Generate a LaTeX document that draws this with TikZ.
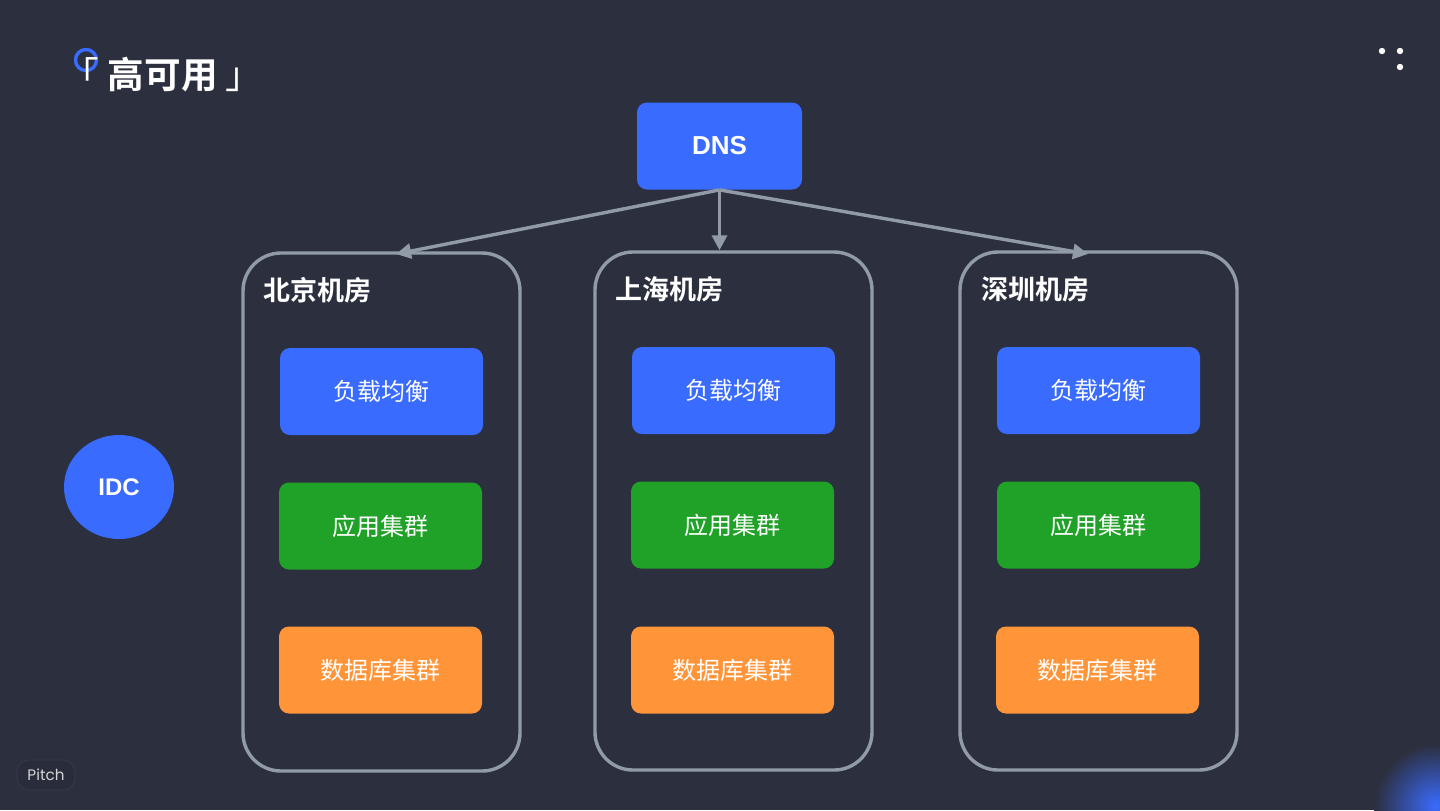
\documentclass[tikz,border=0pt]{standalone}
\usepackage{fontspec}
\setmainfont{Liberation Sans}
\newfontfamily\cjk{Noto Sans CJK SC}
\newfontfamily\cjkb{Noto Sans CJK SC Bold}
\newfontfamily\pitchfont{Poppins}
\usetikzlibrary{arrows.meta,shapes.geometric}
\definecolor{bgdark}{HTML}{2C2F3E}
\definecolor{bluebox}{HTML}{3A6BFF}
\definecolor{greenbox}{HTML}{20A228}
\definecolor{orangebox}{HTML}{FF9438}
\definecolor{linegray}{HTML}{919BA7}
\tikzset{
  unitbox/.style={minimum width=101.5pt,minimum height=43.5pt,rounded corners=5pt,text=white,inner sep=0pt,font=\cjk\fontsize{12}{14}\selectfont},
  roombox/.style={draw=linegray,line width=1.7pt,rounded corners=19pt,minimum width=138.5pt,minimum height=259pt,inner sep=0pt},
  roomtitle/.style={text=white,inner sep=0pt,font=\cjkb\fontsize{13.5}{15}\selectfont},
  feed/.style={draw=linegray,line width=1.7pt,-{Triangle[length=7.5pt,width=7.5pt]}}
}
\begin{document}
\begin{tikzpicture}[x=0.5pt,y=-0.5pt]
\useasboundingbox (0,0) rectangle (1440,810);
\fill[bgdark] (0,0) rectangle (1440,810);

% Resplandor de la esquina
\shade[inner color=bluebox,outer color=bgdark,overlay] (1436,806) circle (62);

% Titulo
\draw[bluebox,line width=1.7pt] (86,60) circle (10.5);
\node[text=white,inner sep=0pt,anchor=west,font=\cjkb\fontsize{18.3}{20}\selectfont] (title) at (62.5,75) {{\cjk「} 高可用 {\cjk」}};

% Puntos de la esquina
\foreach \px/\py in {1382/51,1400/51,1400/67}
  \fill[white] (\px,\py) circle (3.2);

% Marca
\node[draw=white!6!bgdark,fill=black!6!bgdark,rounded corners=6pt,minimum width=29pt,minimum height=15pt,inner sep=0pt] (badge) at (46,775) {};
\node[text=white!80!bgdark,inner sep=0pt,font=\pitchfont\fontsize{7.6}{10}\selectfont] (brand) at (46,775) {Pitch};

% DNS e IDC
\node[fill=bluebox,minimum width=82.5pt,minimum height=43.5pt,rounded corners=5pt,text=white,inner sep=0pt,font=\bfseries\fontsize{13}{15}\selectfont] (dns) at (719.5,146) {DNS};
\node[fill=bluebox,ellipse,minimum width=55pt,minimum height=52pt,text=white,inner sep=0pt,font=\bfseries\fontsize{12}{14}\selectfont] (idc) at (119,487) {IDC};

% Salas
\node[roombox] (bj) at (381.5,512) {};
\node[roombox] (sh) at (733.5,511) {};
\node[roombox] (sz) at (1098.5,511) {};

\node[roomtitle,anchor=west] (bjname) at (263,290) {北京机房};
\node[roomtitle,anchor=west] (shname) at (615,289) {上海机房};
\node[roomtitle,anchor=west] (szname) at (981,289) {深圳机房};

% Cajas de cada sala
\foreach \nm/\xa/\ya/\xb/\yb/\xc/\yc in {bj/381.5/391.5/380.5/526/380.5/670,
    sh/733.5/390.5/732.5/525/732.5/670,
    sz/1098.5/390.5/1098.5/525/1097.5/670} {
  \node[unitbox,fill=bluebox] (\nm lb) at (\xa,\ya) {负载均衡};
  \node[unitbox,fill=greenbox] (\nm app) at (\xb,\yb) {应用集群};
  \node[unitbox,fill=orangebox] (\nm db) at (\xc,\yc) {数据库集群};
}

% Flechas
\coordinate (bjin) at (396,254);
\coordinate (szin) at (1088,254);
\draw[feed] (dns.south) -- (bjin);
\draw[feed] (dns.south) -- (dns.south |- sh.north);
\draw[feed] (dns.south) -- (szin);
\end{tikzpicture}
\end{document}
